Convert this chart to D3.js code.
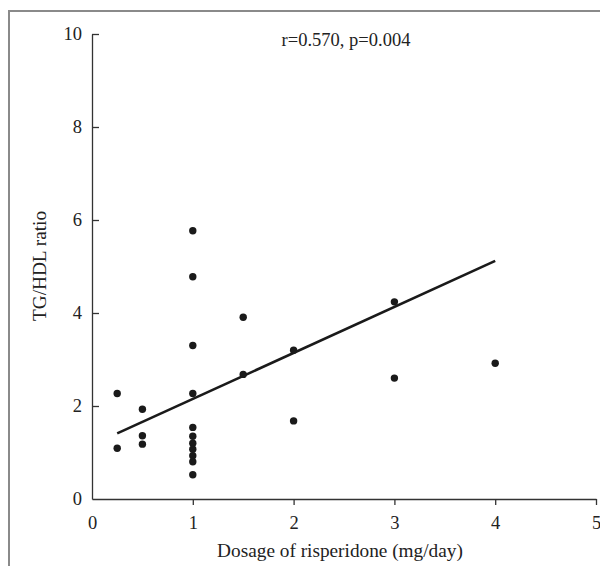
<!DOCTYPE html>
<html>
<head>
<meta charset="utf-8">
<script src="https://cdn.jsdelivr.net/npm/d3@7"></script>
<style>
  html, body { margin: 0; padding: 0; background: #fff; }
  svg text { font-family: "Liberation Serif", "DejaVu Serif", serif; fill: #222; }
</style>
</head>
<body>
<div id="chart"></div>
<script>
// dosage (mg/day) and TG/HDL ratio
let dosage = [0.25, 0.25, 0.5, 0.5, 0.5,
              1, 1, 1, 1, 1, 1, 1, 1, 1, 1, 1,
              1.5, 1.5, 2, 2, 3, 3, 4];
let ratio  = [2.27, 1.09, 1.93, 1.36, 1.18,
              5.77, 4.78, 3.30, 2.27, 1.54, 1.35, 1.20, 1.07, 0.93, 0.80, 0.52,
              3.91, 2.68, 3.20, 1.68, 4.24, 2.60, 2.92];

let fitX = [0.25, 4];
let fitY = [1.41, 5.12];

let xTicks = [0, 1, 2, 3, 4, 5];
let yTicks = [0, 2, 4, 6, 8, 10];
let note = "r=0.570, p=0.004";
let xTitle = "Dosage of risperidone (mg/day)";
let yTitle = "TG/HDL ratio";

let width = 600, height = 566;
let svg = d3.select("#chart").append("svg")
    .attr("width", width)
    .attr("height", height);

// outer frame (left and top edges only)
svg.append("path")
    .attr("d", "M9,566 L9,11 L600,11")
    .attr("fill", "none")
    .attr("stroke", "#8a8a8a")
    .attr("stroke-width", 2);

let x = d3.scaleLinear().domain([0, 5]).range([92, 596]);
let y = d3.scaleLinear().domain([0, 10]).range([499, 34]);

let xAxis = svg.append("g")
    .attr("transform", "translate(0,499)")
    .call(d3.axisBottom(x).tickValues(xTicks).tickFormat(d3.format("d"))
        .tickSizeInner(6).tickSizeOuter(0).tickPadding(11));
let yAxis = svg.append("g")
    .attr("transform", "translate(92,0)")
    .call(d3.axisLeft(y).tickValues(yTicks).tickFormat(d3.format("d"))
        .tickSizeInner(-7).tickSizeOuter(0).tickPadding(10));

[xAxis, yAxis].forEach(g => {
    g.attr("font-family", null).attr("font-size", null);
    g.select(".domain").attr("stroke", "#333").attr("stroke-width", 1.3);
    g.selectAll(".tick line").attr("stroke", "#333").attr("stroke-width", 1.3)
        .filter(d => d === 0).remove();
    g.selectAll(".tick text").style("font-size", "18.5px").attr("fill", "#222");
});

// regression line
svg.append("line")
    .attr("x1", x(fitX[0])).attr("y1", y(fitY[0]))
    .attr("x2", x(fitX[1])).attr("y2", y(fitY[1]))
    .attr("stroke", "#1a1a1a")
    .attr("stroke-width", 2.6);

// points
svg.selectAll(".dot")
    .data(ratio)
    .enter().append("circle")
    .attr("class", "dot")
    .attr("cx", (d, i) => x(dosage[i]))
    .attr("cy", d => y(d))
    .attr("r", 3.7)
    .attr("fill", "#1a1a1a");

svg.append("text")
    .attr("x", 346).attr("y", 46)
    .attr("text-anchor", "middle")
    .style("font-size", "18.5px")
    .text(note);

svg.append("text")
    .attr("x", 340).attr("y", 557)
    .attr("text-anchor", "middle")
    .style("font-size", "19.3px")
    .text(xTitle);

svg.append("text")
    .attr("transform", "translate(46,266) rotate(-90)")
    .attr("text-anchor", "middle")
    .style("font-size", "19.3px")
    .text(yTitle);
</script>
</body>
</html>
